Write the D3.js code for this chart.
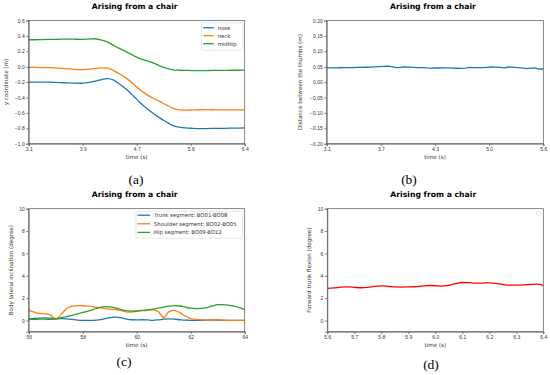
<!DOCTYPE html>
<html>
<head>
<meta charset="utf-8">
<script src="https://cdn.jsdelivr.net/npm/d3@7"></script>
<style>
  html, body { margin: 0; padding: 0; background: #fff; }
  svg { display: block; font-family: "DejaVu Sans", sans-serif; }
  .axis path, .axis line { stroke: #555; stroke-width: 0.7; }
  .axis text { fill: #333; font-size: 5px; }
</style>
</head>
<body>
<div id="chart"></div>
<script>
// ---- data ----
// (a) body keypoints while rising
const aTime = [3.1, 3.2, 3.3, 3.4, 3.5, 3.6, 3.7, 3.8, 3.9, 4.0, 4.1, 4.2, 4.3, 4.4, 4.5, 4.6, 4.7,
  4.8, 4.9, 5.0, 5.1, 5.2, 5.3, 5.4, 5.5, 5.6, 5.7, 5.8, 5.9, 6.0, 6.1, 6.2, 6.3, 6.4];
const aNose = [-0.200, -0.200, -0.200, -0.201, -0.203, -0.207, -0.211, -0.214, -0.215, -0.208, -0.192,
  -0.170, -0.155, -0.175, -0.235, -0.300, -0.380, -0.465, -0.540, -0.605, -0.665, -0.715, -0.765,
  -0.785, -0.795, -0.800, -0.803, -0.803, -0.802, -0.800, -0.800, -0.798, -0.797, -0.795];
const aNeck = [-0.010, -0.010, -0.011, -0.013, -0.016, -0.021, -0.028, -0.034, -0.037, -0.035, -0.025,
  -0.016, -0.018, -0.050, -0.100, -0.155, -0.225, -0.300, -0.360, -0.410, -0.450, -0.495, -0.537,
  -0.560, -0.564, -0.562, -0.559, -0.558, -0.559, -0.560, -0.561, -0.561, -0.561, -0.561];
const aMidHip = [0.350, 0.350, 0.352, 0.354, 0.356, 0.357, 0.358, 0.357, 0.356, 0.358, 0.363,
  0.348, 0.322, 0.275, 0.232, 0.190, 0.145, 0.105, 0.080, 0.050, 0.012, -0.020, -0.040,
  -0.046, -0.048, -0.050, -0.050, -0.050, -0.049, -0.048, -0.047, -0.046, -0.046, -0.045];
const aTickVals = [3.1, 3.925, 4.75, 5.575, 6.4];
const aTickLabels = ["3.1", "3.9", "4.7", "5.6", "6.4"];
const aLegend = ["nose", "neck", "midHip"];

// (b) distance between thumbs
const bTime = [3.10, 3.15, 3.20, 3.25, 3.30, 3.35, 3.40, 3.45, 3.50, 3.55, 3.60, 3.65, 3.70, 3.75,
  3.80, 3.85, 3.90, 3.95, 4.00, 4.05, 4.10, 4.15, 4.20, 4.25, 4.30, 4.35, 4.40, 4.45, 4.50, 4.55,
  4.60, 4.65, 4.70, 4.75, 4.80, 4.85, 4.90, 4.95, 5.00, 5.05, 5.10, 5.15, 5.20, 5.25, 5.30, 5.35,
  5.40, 5.45, 5.50, 5.55, 5.60];
const bThumbs = [0.0465, 0.0462, 0.0465, 0.0466, 0.0468, 0.0470, 0.0472, 0.0475, 0.0478, 0.0482,
  0.0488, 0.0495, 0.0505, 0.0510, 0.0520, 0.0500, 0.0472, 0.0480, 0.0490, 0.0488, 0.0478, 0.0468,
  0.0472, 0.0460, 0.0455, 0.0462, 0.0458, 0.0465, 0.0460, 0.0456, 0.0450, 0.0443, 0.0452, 0.0478,
  0.0470, 0.0472, 0.0468, 0.0480, 0.0490, 0.0488, 0.0480, 0.0465, 0.0490, 0.0485, 0.0470, 0.0465,
  0.0440, 0.0452, 0.0460, 0.0425, 0.0425];
const bTickVals = [3.1, 3.725, 4.35, 4.975, 5.6];
const bTickLabels = ["3.1", "3.7", "4.3", "5.0", "5.6"];

// (c) lateral inclination of body segments
const cTime = [56.0, 56.2, 56.4, 56.6, 56.8, 57.0, 57.2, 57.4, 57.6, 57.8, 58.0, 58.2, 58.4, 58.6,
  58.8, 59.0, 59.2, 59.4, 59.6, 59.8, 60.0, 60.2, 60.4, 60.6, 60.8, 61.0, 61.2, 61.4, 61.6, 61.8,
  62.0, 62.2, 62.4, 62.6, 62.8, 63.0, 63.2, 63.4, 63.6, 63.8, 64.0];
const cTrunk = [0.12, 0.18, 0.22, 0.24, 0.22, 0.18, 0.17, 0.15, 0.10, 0.04, 0.02, 0.02, 0.02, 0.05,
  0.15, 0.26, 0.30, 0.25, 0.14, 0.07, 0.06, 0.07, 0.05, 0.02, 0.06, 0.12, 0.14, 0.12, 0.07, 0.03,
  0.02, 0.01, 0.02, 0.03, 0.05, 0.04, 0.02, 0.01, 0.01, 0.01, 0.01];
const cShoulder = [0.93, 0.75, 0.63, 0.60, 0.50, 0.12, 0.55, 1.05, 1.28, 1.33, 1.32, 1.28, 1.22, 1.15,
  1.08, 1.02, 0.98, 0.90, 0.78, 0.75, 0.82, 0.88, 0.92, 0.95, 0.80, 0.25, 0.80, 0.90, 0.70, 0.40,
  0.18, 0.10, 0.06, 0.04, 0.05, 0.06, 0.04, 0.02, 0.01, 0.01, 0.01];
const cHip = [0.10, 0.11, 0.12, 0.12, 0.11, 0.12, 0.25, 0.35, 0.45, 0.60, 0.72, 0.85, 1.00, 1.15,
  1.25, 1.22, 1.12, 1.00, 0.88, 0.84, 0.85, 0.90, 0.95, 1.02, 1.10, 1.20, 1.28, 1.33, 1.30, 1.20,
  1.10, 1.07, 1.08, 1.15, 1.30, 1.42, 1.43, 1.38, 1.28, 1.15, 1.00];
const cTickVals = [56, 58, 60, 62, 64];
const cLegend = ["Trunk segment: BO01-BO08", "Shoulder segment: BO02-BO05", "Hip segment: BO09-BO12"];

// (d) forward trunk flexion
const dTime = [5.600, 5.625, 5.650, 5.675, 5.700, 5.725, 5.750, 5.775, 5.800, 5.825, 5.850, 5.875,
  5.900, 5.925, 5.950, 5.975, 6.000, 6.025, 6.050, 6.075, 6.100, 6.125, 6.150, 6.175, 6.200, 6.225,
  6.250, 6.275, 6.300, 6.325, 6.350, 6.375, 6.400];
const dFlexion = [2.88, 2.92, 2.98, 3.01, 2.97, 2.93, 2.97, 3.06, 3.10, 3.06, 3.00, 2.99, 3.00, 3.02,
  3.08, 3.13, 3.11, 3.07, 3.15, 3.30, 3.40, 3.38, 3.34, 3.35, 3.37, 3.33, 3.22, 3.16, 3.17, 3.19,
  3.22, 3.25, 3.14];
const dTickVals = [5.6, 5.7, 5.8, 5.9, 6.0, 6.1, 6.2, 6.3, 6.4];

const degTicks = [0, 2, 4, 6, 8, 10];
const colors = ["#1f77b4", "#ff7f0e", "#2ca02c"];

const W = 550, H = 375;
const svg = d3.select("#chart").append("svg")
  .attr("width", W).attr("height", H)
  .attr("viewBox", "0 0 " + W + " " + H);

function drawPanel(o) {
  const x = d3.scaleLinear().domain(o.xDomain).range([o.left, o.right]);
  const y = d3.scaleLinear().domain(o.yDomain).range([o.bottom, o.top]);
  const g = svg.append("g");

  // series
  o.series.forEach(function(s) {
    const line = d3.line()
      .x((d, i) => x(o.time[i]))
      .y(d => y(d))
      .curve(o.curve || d3.curveMonotoneX);
    g.append("path")
      .attr("d", line(s.values))
      .attr("fill", "none")
      .attr("stroke", s.color)
      .attr("stroke-width", 1.3)
      .attr("stroke-linejoin", "round");
  });

  // axes
  const xAxis = d3.axisBottom(x).tickValues(o.xTicks).tickSize(2.5).tickPadding(1.5);
  if (o.xLabels) xAxis.tickFormat((d, i) => o.xLabels[i]);
  else xAxis.tickFormat(o.xFormat);
  g.append("g").attr("class", "axis")
    .attr("transform", "translate(0," + o.bottom + ")")
    .call(xAxis);

  const yAxis = d3.axisLeft(y).tickValues(o.yTicks).tickSize(2.5).tickPadding(1.5)
    .tickFormat(o.yFormat);
  g.append("g").attr("class", "axis")
    .attr("transform", "translate(" + o.left + ",0)")
    .call(yAxis);

  // frame
  g.append("rect")
    .attr("x", o.left).attr("y", o.top)
    .attr("width", o.right - o.left).attr("height", o.bottom - o.top)
    .attr("fill", "none").attr("stroke", "#555").attr("stroke-width", 0.7);

  // title, labels, caption
  g.append("text")
    .attr("x", (o.left + o.right) / 2 - 2).attr("y", o.top - 11.3)
    .attr("text-anchor", "middle")
    .attr("font-size", 7.7).attr("font-weight", "bold").attr("fill", "#000")
    .text("Arising from a chair");
  g.append("text")
    .attr("x", (o.left + o.right) / 2).attr("y", o.bottom + 15)
    .attr("text-anchor", "middle")
    .attr("font-size", 5.6).attr("fill", "#333")
    .text("time (s)");
  g.append("text")
    .attr("transform", "translate(" + o.yLabelX + "," + (o.top + o.bottom) / 2 + ") rotate(-90)")
    .attr("text-anchor", "middle")
    .attr("font-size", 5.6).attr("fill", "#333")
    .text(o.yLabel);
  g.append("text")
    .attr("x", o.captionX).attr("y", o.captionY)
    .attr("text-anchor", "middle")
    .attr("font-family", "'Liberation Serif', 'Times New Roman', serif")
    .attr("font-size", 13.5).attr("fill", "#000")
    .text(o.caption);

  // legend
  if (o.legend) {
    const L = o.legend;
    const lg = g.append("g");
    lg.append("rect")
      .attr("x", L.x).attr("y", L.y).attr("width", L.w).attr("height", L.h)
      .attr("rx", 1.5).attr("fill", "#fff").attr("fill-opacity", 0.8)
      .attr("stroke", "#d6d6d6").attr("stroke-width", 0.6);
    L.labels.forEach(function(name, i) {
      const ry = L.y + L.first + i * L.step;
      lg.append("line")
        .attr("x1", L.x + 1.5).attr("x2", L.x + 1.5 + L.lineW)
        .attr("y1", ry).attr("y2", ry)
        .attr("stroke", colors[i]).attr("stroke-width", 1.3);
      lg.append("text")
        .attr("x", L.x + 1.5 + L.lineW + 4).attr("y", ry + 1.9)
        .attr("font-size", 5.3).attr("fill", "#333")
        .text(name);
    });
  }
}

// (a)
drawPanel({
  left: 28.7, right: 244.7, top: 20.5, bottom: 143.7,
  xDomain: [3.1, 6.4], yDomain: [-1.0, 0.6],
  time: aTime,
  series: [
    { values: aNose, color: colors[0] },
    { values: aNeck, color: colors[1] },
    { values: aMidHip, color: colors[2] }
  ],
  xTicks: aTickVals, xLabels: aTickLabels,
  yTicks: [-1.0, -0.8, -0.6, -0.4, -0.2, 0.0, 0.2, 0.4, 0.6], yFormat: d3.format(".1f"),
  yLabel: "y coordinate (m)", yLabelX: 7.5,
  caption: "(a)", captionX: 136, captionY: 183.5,
  legend: { x: 201.7, y: 22.7, w: 41, h: 27.5, first: 5, step: 8, lineW: 10.5, labels: aLegend }
});

// (b)
drawPanel({
  left: 326.7, right: 543.3, top: 20.5, bottom: 143.7,
  xDomain: [3.1, 5.6], yDomain: [-0.2, 0.2],
  time: bTime,
  series: [{ values: bThumbs, color: colors[0] }],
  curve: d3.curveLinear,
  xTicks: bTickVals, xLabels: bTickLabels,
  yTicks: [-0.2, -0.15, -0.1, -0.05, 0, 0.05, 0.1, 0.15, 0.2], yFormat: d3.format(".2f"),
  yLabel: "Distance between the thumbs (m)", yLabelX: 301.5,
  caption: "(b)", captionX: 409, captionY: 183.5
});

// (c)
drawPanel({
  left: 28.7, right: 244.7, top: 208.7, bottom: 331.7,
  xDomain: [56, 64], yDomain: [-1, 10],
  time: cTime,
  series: [
    { values: cTrunk, color: colors[0] },
    { values: cShoulder, color: colors[1] },
    { values: cHip, color: colors[2] }
  ],
  xTicks: cTickVals, xFormat: d3.format("d"),
  yTicks: degTicks, yFormat: d3.format("d"),
  yLabel: "Body lateral inclination (degree)", yLabelX: 13,
  caption: "(c)", captionX: 124, captionY: 366,
  legend: { x: 136, y: 211.2, w: 106.5, h: 27, first: 4, step: 8.6, lineW: 12.5, labels: cLegend }
});

// (d)
drawPanel({
  left: 327.3, right: 543.3, top: 208.7, bottom: 331.7,
  xDomain: [5.6, 6.4], yDomain: [-1, 10],
  time: dTime,
  series: [{ values: dFlexion, color: "#ff0000" }],
  xTicks: dTickVals, xFormat: d3.format(".1f"),
  yTicks: degTicks, yFormat: d3.format("d"),
  yLabel: "Forward trunk flexion (degree)", yLabelX: 311,
  caption: "(d)", captionX: 431, captionY: 369
});

// empty legend box of panel (d)
svg.append("rect")
  .attr("x", 536.5).attr("y", 211.5).attr("width", 4).attr("height", 4)
  .attr("rx", 0.6).attr("fill", "#fff").attr("stroke", "#d6d6d6").attr("stroke-width", 0.6);
</script>
</body>
</html>
